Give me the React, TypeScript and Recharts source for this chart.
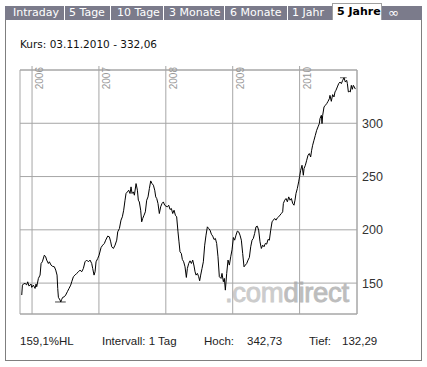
import { CartesianGrid, Line, LineChart, ReferenceLine, XAxis, YAxis } from "recharts";

const tabs = ["Intraday", "5 Tage", "10 Tage", "3 Monate", "6 Monate", "1 Jahr", "5 Jahre", "∞"];
const activeTab = "5 Jahre";

const yearTicks = [2006, 2007, 2008, 2009, 2010];
const priceTicks = [150, 200, 250, 300];
const xDomain = [2005.82, 2010.858];
const yDomain = [121, 350];

// time as fractional year, price in EUR
const dates = [
  2005.846, 2005.856, 2005.87, 2005.895, 2005.92, 2005.935, 2005.955, 2005.985, 2005.995, 2006.02,
  2006.045, 2006.06, 2006.07, 2006.095, 2006.12, 2006.135, 2006.154, 2006.184, 2006.204, 2006.219,
  2006.244, 2006.259, 2006.284, 2006.304, 2006.334, 2006.354, 2006.374, 2006.384, 2006.394, 2006.419,
  2006.429, 2006.443, 2006.458, 2006.483, 2006.503, 2006.528, 2006.553, 2006.578, 2006.593, 2006.618,
  2006.643, 2006.668, 2006.693, 2006.718, 2006.742, 2006.767, 2006.792, 2006.817, 2006.842, 2006.867,
  2006.892, 2006.907, 2006.927, 2006.942, 2006.957, 2006.982, 2007.002, 2007.032, 2007.056, 2007.081,
  2007.101, 2007.131, 2007.156, 2007.176, 2007.191, 2007.216, 2007.241, 2007.266, 2007.281, 2007.306,
  2007.33, 2007.35, 2007.37, 2007.39,
  2007.405, 2007.425, 2007.445, 2007.465, 2007.48, 2007.495, 2007.515, 2007.53, 2007.555, 2007.575,
  2007.589, 2007.604, 2007.624, 2007.639, 2007.654, 2007.674, 2007.694, 2007.714, 2007.734, 2007.754,
  2007.774, 2007.794, 2007.814, 2007.834, 2007.849, 2007.864, 2007.883, 2007.903, 2007.923, 2007.943,
  2007.963, 2007.983, 2008.003, 2008.023, 2008.043, 2008.063, 2008.083, 2008.103, 2008.123, 2008.143,
  2008.162, 2008.182, 2008.197, 2008.212, 2008.232, 2008.247, 2008.267, 2008.287, 2008.307, 2008.322,
  2008.342, 2008.362, 2008.382, 2008.402, 2008.422, 2008.437, 2008.452, 2008.472, 2008.491, 2008.506,
  2008.521, 2008.541, 2008.561, 2008.581, 2008.601, 2008.621, 2008.641, 2008.661, 2008.681, 2008.701,
  2008.721, 2008.741, 2008.76, 2008.78, 2008.8,
  2008.825, 2008.84, 2008.86, 2008.875, 2008.89, 2008.91, 2008.93, 2008.95, 2008.97, 2008.99,
  2009.01, 2009.029, 2009.049, 2009.069, 2009.089, 2009.109, 2009.129, 2009.149, 2009.169, 2009.189,
  2009.209, 2009.229, 2009.249, 2009.269, 2009.289, 2009.308, 2009.328, 2009.348, 2009.368, 2009.388,
  2009.408, 2009.428, 2009.448, 2009.468, 2009.488, 2009.508, 2009.528, 2009.548, 2009.568, 2009.588,
  2009.607, 2009.627, 2009.647, 2009.667, 2009.687, 2009.707, 2009.727, 2009.747, 2009.757, 2009.777,
  2009.797, 2009.817, 2009.837, 2009.857, 2009.877, 2009.897, 2009.916, 2009.931, 2009.946, 2009.966,
  2009.986, 2010.0,
  2010.016, 2010.036, 2010.056, 2010.066, 2010.086, 2010.106, 2010.126, 2010.145, 2010.165, 2010.18,
  2010.195, 2010.215, 2010.235, 2010.255, 2010.275, 2010.295, 2010.305, 2010.325, 2010.335, 2010.345,
  2010.365, 2010.385, 2010.405, 2010.425, 2010.445, 2010.454, 2010.474, 2010.494, 2010.514, 2010.529,
  2010.544, 2010.564, 2010.584, 2010.604, 2010.624, 2010.644, 2010.664, 2010.684, 2010.704, 2010.714,
  2010.729, 2010.743, 2010.758, 2010.773, 2010.788, 2010.803, 2010.818, 2010.833
];

const prices = [
  138.8, 148.1, 149.1, 149.7, 148.4, 151.2, 147.2, 149.1, 146.0, 148.1,
  145.0, 149.1, 146.6, 154.4, 157.5, 168.4, 170.0, 176.2, 174.7, 171.6,
  168.4, 170.0, 166.9, 165.8, 165.3, 162.2, 157.5, 145.0, 136.6, 134.1,
  132.3, 134.7, 136.6, 137.2, 138.8, 141.9, 145.0, 148.1, 151.2, 156.0,
  157.5, 159.1, 160.6, 162.2, 160.6, 163.7, 170.0, 171.6, 170.0, 171.6,
  168.4, 163.7, 157.5, 160.6, 170.0, 173.1, 176.2, 183.4, 185.6, 187.2,
  190.3, 194.1, 193.4, 188.7, 184.1, 182.5, 185.6, 190.3, 198.1, 201.2,
  209.1, 212.2, 218.4, 227.8,
  234.1, 235.6, 237.2, 234.1, 240.3, 234.1, 235.6, 232.5, 243.4, 237.2,
  227.8, 226.2, 218.4, 207.5, 210.6, 213.7, 216.9, 227.8, 230.9, 238.7,
  245.9, 243.4, 241.9, 237.2, 230.9, 229.4, 224.7, 215.3, 221.6, 224.7,
  226.2, 223.1, 222.2, 221.6, 223.1, 219.1, 220.0, 215.3, 218.4, 213.7,
  212.2, 198.1, 188.7, 179.4, 177.8, 172.2, 170.0, 165.3, 155.3, 163.7,
  168.4, 170.9, 168.4, 171.6, 166.0, 160.6, 157.5, 159.1, 156.0, 152.2,
  157.5, 163.7, 170.0, 185.6, 195.0, 202.8, 201.2, 199.7, 195.9, 194.1,
  190.9, 191.9, 187.2, 174.7, 156.0,
  154.4, 159.1, 151.3, 154.4, 143.4, 159.1, 171.6, 166.9, 174.7, 181.2,
  192.8, 190.3, 195.0, 198.8, 198.1, 195.0, 190.3, 177.8, 165.3, 166.9,
  168.4, 171.6, 174.1, 184.1, 190.3, 191.9, 196.6, 202.8, 203.4, 199.7,
  188.8, 182.5, 185.6, 184.1, 187.2, 186.6, 191.0, 190.3, 199.7, 207.5,
  209.1, 210.6, 209.1, 211.2, 212.2, 213.8, 215.3, 216.9, 224.7, 227.8,
  229.4, 226.3, 230.9, 227.8, 229.4, 224.7, 223.1, 227.8, 234.1, 238.8,
  245.0, 250.0,
  255.9, 260.6, 251.2, 257.5, 260.6, 265.3, 270.0, 271.6, 268.4, 274.7,
  279.4, 284.1, 288.7, 293.4, 296.6, 299.7, 304.4, 307.5, 299.7, 307.5,
  315.3, 316.9, 318.4, 320.6, 323.1, 326.2, 320.6, 326.9, 324.7, 329.4,
  331.0, 334.1, 337.2, 338.7, 337.2, 340.3, 342.7, 338.7, 340.3, 337.2,
  329.4, 330.0, 329.4, 335.6, 331.9, 335.6, 334.1, 332.1
];

// Hoch / Tief markers
const lowMark = { from: 2006.344, to: 2006.504, value: 132.29 };
const highMark = { from: 2010.604, to: 2010.704, value: 342.73 };

const data = dates.map((t, i) => ({ t, v: prices[i] }));

const gridColor = "#a6a6a6";

function YearTick(props: any) {
  const { x, y, payload } = props;
  return (
    <g>
      <line x1={x} x2={x} y1={y - 4} y2={y} stroke={gridColor} />
      <text
        x={x + 11}
        y={y - 3}
        transform={`rotate(-90 ${x + 11} ${y - 3})`}
        textAnchor="end"
        fontSize={10}
        fontFamily="'Liberation Sans', Arial, sans-serif"
        fill="#999"
      >
        {payload.value}
      </text>
    </g>
  );
}

const tabBox: Record<string, { left: number; width: number; pad: number }> = {
  Intraday: { left: 5, width: 60, pad: 8 },
  "5 Tage": { left: 65, width: 46, pad: 4 },
  "10 Tage": { left: 111, width: 53, pad: 6 },
  "3 Monate": { left: 164, width: 61, pad: 5 },
  "6 Monate": { left: 225, width: 63, pad: 5 },
  "1 Jahr": { left: 288, width: 44, pad: 4 },
  "5 Jahre": { left: 332, width: 50, pad: 4 },
  "∞": { left: 382, width: 40, pad: 6 }
};

export default function App() {
  return (
    <div
      style={{
        position: "absolute",
        left: 0,
        top: 0,
        width: 427,
        height: 367,
        background: "#fff",
        fontFamily: "'DejaVu Sans', Verdana, sans-serif",
        overflow: "hidden"
      }}
    >
      <div style={{ position: "absolute", left: 5, top: 6, width: 417, height: 14, background: "#7b7b8b" }} />
      {tabs.map((tab, i) => {
        const box = tabBox[tab];
        const active = tab === activeTab;
        const sep = !active && i < tabs.length - 1 && tabs[i + 1] !== activeTab;
        return (
          <div
            key={tab}
            style={{
              position: "absolute",
              left: box.left,
              top: active ? 3 : 6,
              width: box.width,
              height: active ? 17 : 14,
              boxSizing: "border-box",
              background: active ? "#fff" : "transparent",
              border: active ? "1px solid #a0a0a0" : "none",
              borderBottom: "none",
              borderRight: sep ? "1px solid #fff" : active ? "1px solid #a0a0a0" : "none",
              paddingLeft: box.pad,
              fontSize: tab === "∞" ? 13 : 11,
              lineHeight: active ? "16px" : "14px",
              color: active ? "#000" : "#fff",
              fontWeight: active ? "bold" : "normal",
              whiteSpace: "nowrap"
            }}
          >
            {tab}
          </div>
        );
      })}
      <div
        style={{
          position: "absolute",
          left: 5,
          top: 20,
          width: 417,
          height: 341,
          boxSizing: "border-box",
          borderLeft: "1px solid #7f7f7f",
          borderRight: "1px solid #7f7f7f",
          borderBottom: "1px solid #7f7f7f"
        }}
      />
      <div style={{ position: "absolute", left: 20, top: 38, fontSize: 10.5, lineHeight: "12px", color: "#111", whiteSpace: "nowrap" }}>
        Kurs: 03.11.2010 - 332,06
      </div>

      <svg width={427} height={367} style={{ position: "absolute", left: 0, top: 0 }}>
        <text
          x={225}
          y={302}
          fontSize={27.5}
          fontFamily="'Liberation Sans', Arial, sans-serif"
          strokeWidth={0.9}
          letterSpacing={-0.3}
        >
          <tspan fill="#cccccc" stroke="#cccccc">.com</tspan>
          <tspan fill="#bdbdbd" stroke="#bdbdbd">direct</tspan>
        </text>
      </svg>

      <div style={{ position: "absolute", left: 0, top: 0 }}>
        <LineChart width={427} height={367} data={data} margin={{ top: 60, right: 30, bottom: 53, left: 20 }}>
          <CartesianGrid stroke={gridColor} />
          <XAxis
            dataKey="t"
            type="number"
            orientation="top"
            domain={xDomain}
            ticks={yearTicks}
            interval={0}
            height={10}
            allowDataOverflow
            axisLine={false}
            tickLine={false}
            tickSize={0}
            tickMargin={0}
            tick={<YearTick />}
          />
          <YAxis
            orientation="right"
            domain={yDomain}
            ticks={priceTicks}
            width={40}
            allowDataOverflow
            axisLine={false}
            tickLine={false}
            tickSize={0}
            tickMargin={5}
            interval={0}
            tick={{ fill: "#333", fontSize: 12.5, fontFamily: "'Liberation Sans', Arial, sans-serif", textAnchor: "start" }}
          />
          <ReferenceLine y={yDomain[1]} stroke={gridColor} />
          <ReferenceLine y={yDomain[0]} stroke={gridColor} />
          <ReferenceLine x={xDomain[1]} stroke={gridColor} />
          <ReferenceLine
            segment={[
              { x: lowMark.from, y: lowMark.value },
              { x: lowMark.to, y: lowMark.value }
            ]}
            stroke="#444"
          />
          <ReferenceLine
            segment={[
              { x: highMark.from, y: highMark.value },
              { x: highMark.to, y: highMark.value }
            ]}
            stroke="#666"
          />
          <Line type="linear" dataKey="v" stroke="#000" strokeWidth={1} dot={false} isAnimationActive={false} />
        </LineChart>
      </div>

      <div
        style={{
          position: "absolute",
          top: 334,
          left: 0,
          fontFamily: "'Liberation Sans', Arial, sans-serif",
          fontSize: 11.5,
          lineHeight: "14px",
          color: "#222",
          whiteSpace: "nowrap"
        }}
      >
        <span style={{ position: "absolute", left: 20 }}>159,1%HL</span>
        <span style={{ position: "absolute", left: 102 }}>Intervall: 1 Tag</span>
        <span style={{ position: "absolute", left: 204 }}>Hoch:</span>
        <span style={{ position: "absolute", left: 247 }}>342,73</span>
        <span style={{ position: "absolute", left: 309 }}>Tief:</span>
        <span style={{ position: "absolute", left: 342 }}>132,29</span>
      </div>
    </div>
  );
}
